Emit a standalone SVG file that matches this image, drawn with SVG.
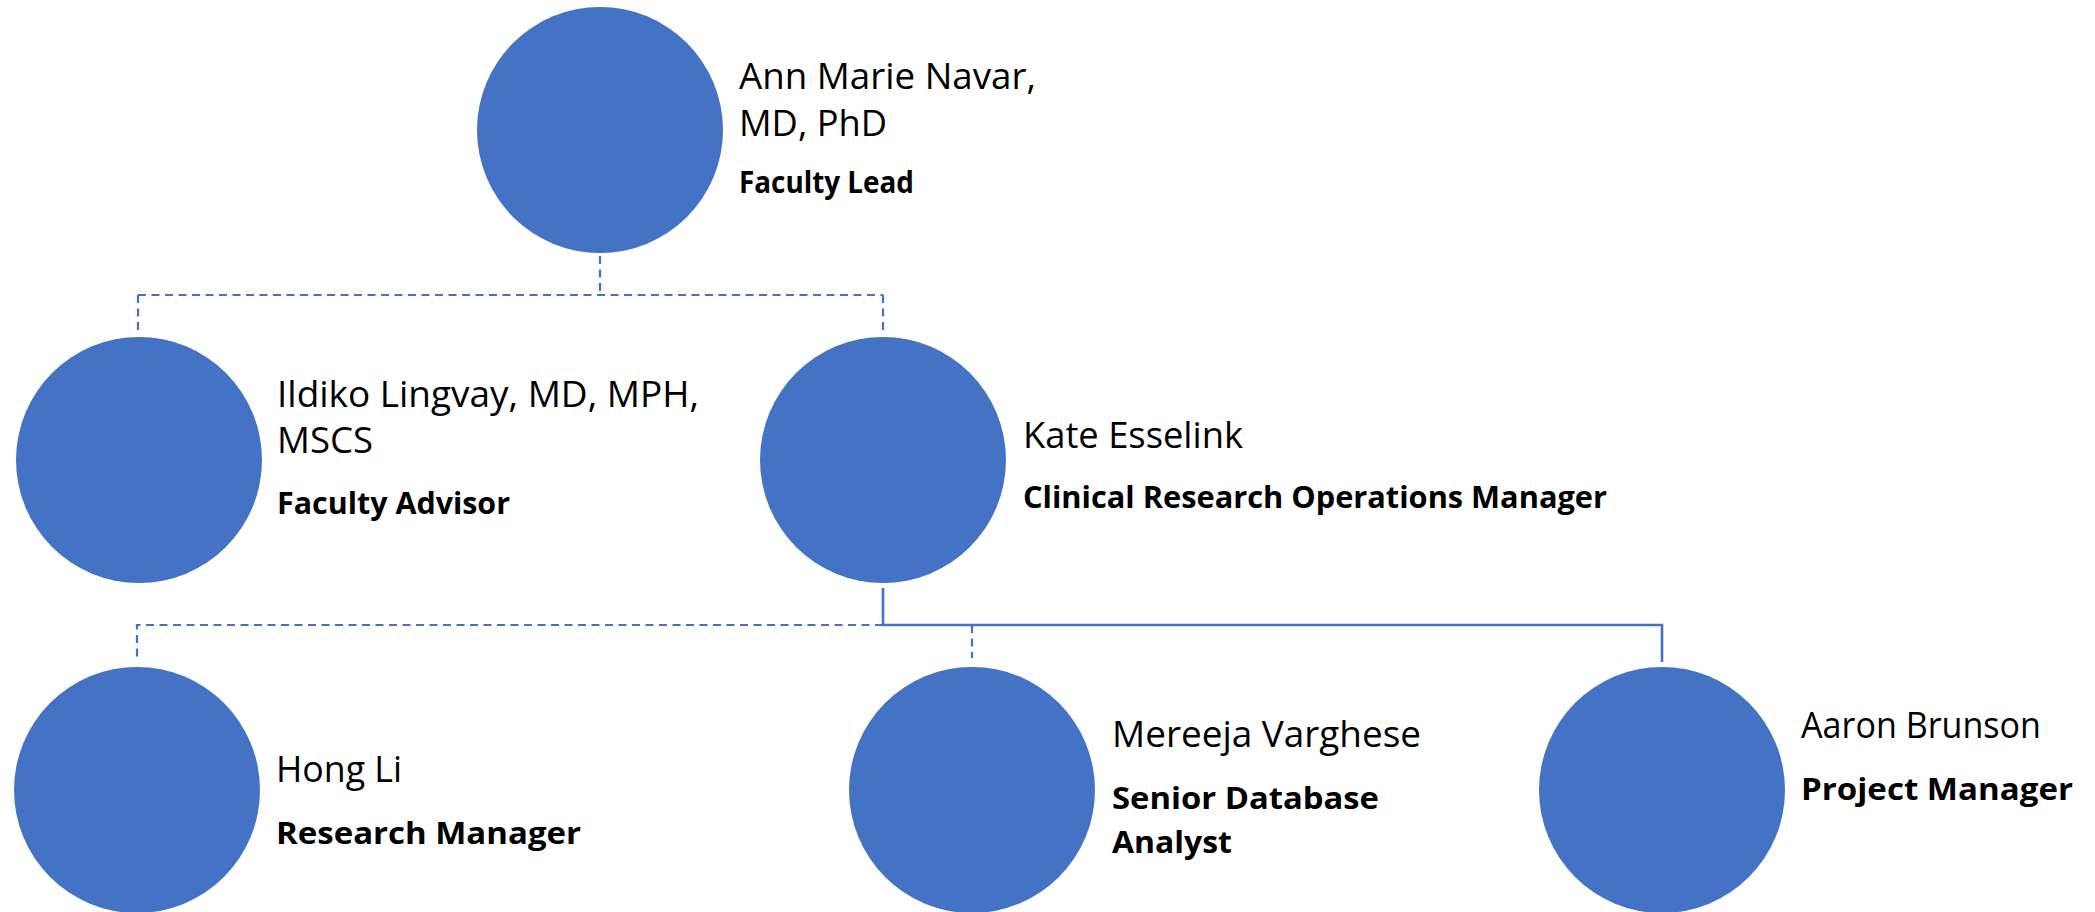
<svg xmlns="http://www.w3.org/2000/svg" width="2095" height="912" viewBox="0 0 2095 912">
<style>
.node circle{fill:#4472C4}
.nm{font-family:"Open Sans","Liberation Sans",sans-serif;font-size:36.5px;fill:#000}
.rl{font-family:"Open Sans","Liberation Sans",sans-serif;font-size:30px;font-weight:bold;fill:#000}
.dash{fill:none;stroke:#4472C4;stroke-width:2.2;stroke-dasharray:8 5.5}
.solid{fill:none;stroke:#4472C4;stroke-width:2.6}
</style>
<rect width="2095" height="912" fill="#fff"/>
<g id="connectors">
<path class="dash" d="M600,256 V295 M138,295 H883 M138,295 V330 M883,295 V330"/>
<path class="dash" d="M883,625 H137 V660 M972,625 V658"/>
<path class="solid" d="M883,588 V625 H1662 V662"/>
</g>
<g id="navar" class="node">
<circle cx="600" cy="130" r="123"/>
<text class="nm" x="739" y="89" textLength="297" lengthAdjust="spacingAndGlyphs">Ann Marie Navar,</text>
<text class="nm" x="739" y="136" textLength="148" lengthAdjust="spacingAndGlyphs">MD, PhD</text>
<text class="rl" x="739" y="193" textLength="175" lengthAdjust="spacingAndGlyphs">Faculty Lead</text>
</g>
<g id="lingvay" class="node">
<circle cx="139" cy="460" r="123"/>
<text class="nm" x="277" y="407" textLength="422" lengthAdjust="spacingAndGlyphs">Ildiko Lingvay, MD, MPH,</text>
<text class="nm" x="277" y="453" textLength="96" lengthAdjust="spacingAndGlyphs">MSCS</text>
<text class="rl" x="277" y="514" textLength="233" lengthAdjust="spacingAndGlyphs">Faculty Advisor</text>
</g>
<g id="esselink" class="node">
<circle cx="883" cy="460" r="123"/>
<text class="nm" x="1023" y="448" textLength="220" lengthAdjust="spacingAndGlyphs">Kate Esselink</text>
<text class="rl" x="1023" y="508" textLength="584" lengthAdjust="spacingAndGlyphs">Clinical Research Operations Manager</text>
</g>
<g id="li" class="node">
<circle cx="137" cy="790" r="123"/>
<text class="nm" x="276" y="782" textLength="126" lengthAdjust="spacingAndGlyphs">Hong Li</text>
<text class="rl" x="276" y="844" textLength="305" lengthAdjust="spacingAndGlyphs">Research Manager</text>
</g>
<g id="varghese" class="node">
<circle cx="972" cy="790" r="123"/>
<text class="nm" x="1112" y="747" textLength="309" lengthAdjust="spacingAndGlyphs">Mereeja Varghese</text>
<text class="rl" x="1112" y="809" textLength="267" lengthAdjust="spacingAndGlyphs">Senior Database</text>
<text class="rl" x="1112" y="853" textLength="120" lengthAdjust="spacingAndGlyphs">Analyst</text>
</g>
<g id="brunson" class="node">
<circle cx="1662" cy="790" r="123"/>
<text class="nm" x="1801" y="738" textLength="240" lengthAdjust="spacingAndGlyphs">Aaron Brunson</text>
<text class="rl" x="1801" y="800" textLength="272" lengthAdjust="spacingAndGlyphs">Project Manager</text>
</g>
</svg>
